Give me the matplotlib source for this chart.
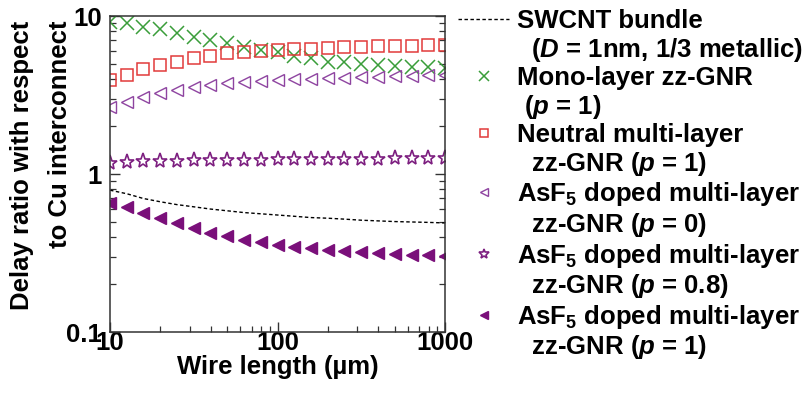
import numpy as np
import matplotlib
matplotlib.use("Agg")
import matplotlib.pyplot as plt
from matplotlib.lines import Line2D
from matplotlib.ticker import FixedLocator, FixedFormatter, LogLocator, NullFormatter

plt.rcParams['font.family'] = ['Liberation Sans', 'DejaVu Sans']
plt.rcParams['font.weight'] = 'bold'
plt.rcParams['mathtext.fontset'] = 'custom'
plt.rcParams['mathtext.rm'] = 'Liberation Sans:bold'
plt.rcParams['mathtext.it'] = 'Liberation Sans:bold:italic'
plt.rcParams['mathtext.bf'] = 'Liberation Sans:bold'

# wire length (um), log spaced points
length = [10, 12.6, 15.8, 20, 25.1, 31.6, 39.8, 50.1, 63.1, 79.4, 100,
          126, 158, 200, 251, 316, 398, 501, 631, 794, 1000]

swcnt = [0.79, 0.75, 0.70, 0.667, 0.64, 0.62, 0.60, 0.585, 0.57, 0.56, 0.55,
         0.54, 0.53, 0.525, 0.518, 0.51, 0.505, 0.50, 0.497, 0.494, 0.49]
mono = [9.1, 9.03, 8.52, 8.27, 7.8, 7.36, 7.05, 6.75, 6.36, 6.09, 5.91,
        5.55, 5.4, 5.15, 5.08, 5.0, 4.9, 4.85, 4.78, 4.75, 4.72]
neutral = [3.93, 4.23, 4.62, 4.89, 5.11, 5.41, 5.58, 5.83, 5.91, 6.0, 6.09,
           6.15, 6.22, 6.28, 6.33, 6.38, 6.42, 6.46, 6.5, 6.53, 6.55]
asf5_p0 = [2.66, 2.85, 3.07, 3.25, 3.40, 3.55, 3.66, 3.77, 3.82, 3.88, 3.93,
           3.97, 4.01, 4.05, 4.08, 4.11, 4.14, 4.17, 4.19, 4.21, 4.23]
asf5_p08 = [1.17, 1.19, 1.2, 1.21, 1.21, 1.22, 1.22, 1.23, 1.23, 1.23, 1.24,
            1.24, 1.24, 1.25, 1.25, 1.25, 1.25, 1.26, 1.26, 1.26, 1.26]
asf5_p1 = [0.653, 0.62, 0.565, 0.525, 0.488, 0.454, 0.424, 0.404, 0.381, 0.372, 0.355,
           0.346, 0.338, 0.33, 0.326, 0.321, 0.316, 0.31, 0.306, 0.306, 0.302]

fs = 18.5

fig = plt.figure(figsize=(8.07, 4.01), dpi=100)
ax = fig.add_axes([110/807, 1-332/401, 335/807, 316/401])

h_sw, = ax.plot(length, swcnt, color='black', lw=1.0, ls=(0, (2.5, 1.8)))
h_mono, = ax.plot(length, mono, ls='none', marker='x', ms=10, mew=1.1, color='#3a9d3a')
h_neu, = ax.plot(length, neutral, ls='none', marker='s', ms=8.5, mew=1.1,
                 mfc='none', mec='#e23a3a')
h_p0, = ax.plot(length, asf5_p0, ls='none', marker='<', ms=8.5, mew=1.0,
                mfc='none', mec='#8e44a0')
h_p08, = ax.plot(length, asf5_p08, ls='none', marker='*', ms=11, mew=1.2,
                 mfc='white', mec='#7d1f80')
h_p1, = ax.plot(length, asf5_p1, ls='none', marker='<', ms=9, color='#7a0f7a')

ax.set_xscale('log')
ax.set_yscale('log')
ax.set_xlim(10, 1000)
ax.set_ylim(0.1, 10)

ax.xaxis.set_major_locator(FixedLocator([10, 100, 1000]))
ax.xaxis.set_major_formatter(FixedFormatter(['10', '100', '1000']))
ax.yaxis.set_major_locator(FixedLocator([0.1, 1, 10]))
ax.yaxis.set_major_formatter(FixedFormatter(['0.1', '1', '10']))
ax.xaxis.set_minor_locator(LogLocator(base=10, subs=np.arange(2, 10)))
ax.yaxis.set_minor_locator(LogLocator(base=10, subs=np.arange(2, 10)))
ax.xaxis.set_minor_formatter(NullFormatter())
ax.yaxis.set_minor_formatter(NullFormatter())

ax.tick_params(which='both', direction='in', right=True, top=False,
               labelsize=fs, color='#333333')
ax.tick_params(which='major', length=7, width=1.0)
ax.tick_params(which='minor', length=4, width=0.9)
ax.tick_params(axis='x', pad=-1)
ax.tick_params(axis='y', pad=6)
for s in ax.spines.values():
    s.set_linewidth(1.1)
    s.set_color('#333333')

ax.set_xlabel('Wire length (µm)', fontsize=fs, fontweight='bold', labelpad=0)
fig.text(41/807, 1-165/401, 'Delay ratio with respect\nto Cu interconnect',
         rotation=90, ha='center', va='center', multialignment='right',
         fontsize=fs, fontweight='bold', linespacing=1.75)

blank = Line2D([], [], ls='none', marker='none')
handles = [h_sw, blank, h_mono, blank, h_neu, blank, h_p0, blank, h_p08, blank, h_p1, blank]
labels = ['SWCNT bundle',
          r'  ($D$ = 1nm, 1/3 metallic)',
          'Mono-layer zz-GNR',
          r' ($p$ = 1)',
          'Neutral multi-layer',
          r'  zz-GNR ($p$ = 1)',
          r'AsF$_5$ doped multi-layer',
          r'  zz-GNR ($p$ = 0)',
          r'AsF$_5$ doped multi-layer',
          r'  zz-GNR ($p$ = 0.8)',
          r'AsF$_5$ doped multi-layer',
          r'  zz-GNR ($p$ = 1)']
leg = fig.legend(handles, labels, loc='upper left', bbox_to_anchor=(458/807, 1-9/401),
                 frameon=False, fontsize=fs, borderpad=0, borderaxespad=0,
                 handlelength=2.0, handletextpad=0.3, labelspacing=0.1,
                 markerscale=0.7)

fig.savefig('out.png', dpi=100)
